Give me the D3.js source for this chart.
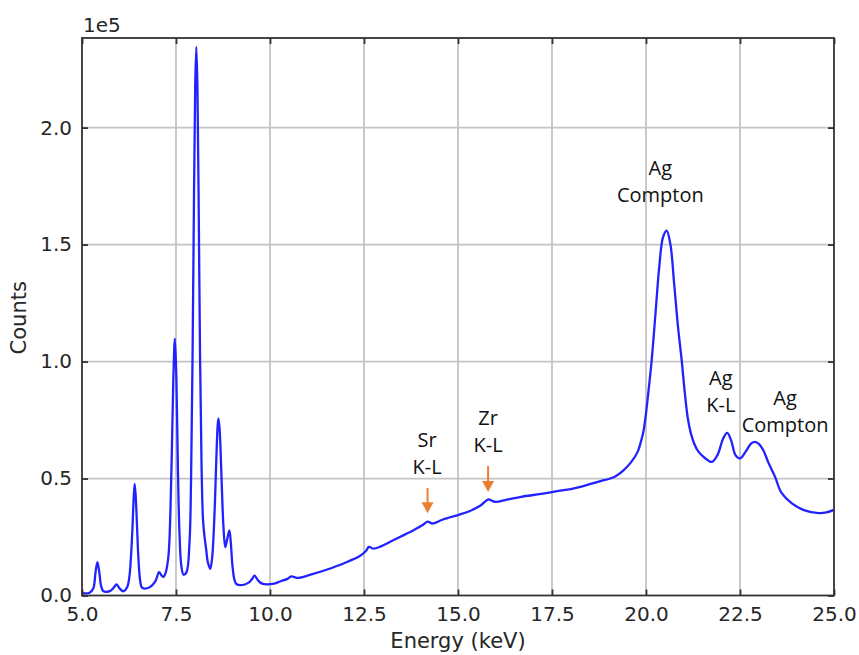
<!DOCTYPE html>
<html>
<head>
<meta charset="utf-8">
<script src="https://cdn.jsdelivr.net/npm/d3@7"></script>
<style>
  html, body { margin: 0; padding: 0; background: #fff; }
  svg { display: block; }
</style>
</head>
<body>
<svg id="chart" width="859" height="655"></svg>
<script>
// ---- Data (energy in keV, counts) ----
const energy = [5.00,5.20,5.30,5.36,5.41,5.46,5.51,5.57,5.75,5.85,5.92,6.00,6.10,6.20,6.26,6.30,6.34,6.37,6.40,6.43,6.46,6.50,6.55,6.60,6.80,6.95,7.05,7.12,7.17,7.23,7.30,7.35,7.39,7.43,7.47,7.51,7.55,7.59,7.64,7.70,7.78,7.86,7.90,7.94,7.98,8.01,8.04,8.07,8.10,8.14,8.18,8.22,8.26,8.30,8.35,8.41,8.46,8.50,8.54,8.58,8.61,8.63,8.66,8.69,8.72,8.76,8.81,8.86,8.92,8.96,9.00,9.05,9.10,9.22,9.42,9.52,9.59,9.68,9.79,10.11,10.28,10.45,10.57,10.72,11.08,11.50,12.00,12.40,12.55,12.63,12.75,12.95,13.20,13.48,13.84,14.05,14.19,14.30,14.37,14.60,15.02,15.30,15.60,15.81,15.90,16.01,16.30,16.68,17.21,17.60,18.00,18.28,18.70,19.17,19.40,19.61,19.78,19.86,19.93,19.99,20.05,20.15,20.25,20.35,20.45,20.55,20.65,20.75,20.85,20.95,21.03,21.11,21.19,21.28,21.39,21.55,21.75,21.90,22.05,22.16,22.27,22.38,22.50,22.65,22.80,22.90,23.00,23.12,23.25,23.43,23.60,23.88,24.20,24.59,24.80,25.00];
const counts = [1000,1200,3000,10000,14300,10000,4000,1800,2000,3500,4700,3000,1800,3500,8000,16000,28000,40000,47700,42000,31000,16000,6000,3300,3500,6000,10000,8500,8000,10000,17000,35000,62000,93000,109800,93000,55000,28000,13000,8900,10000,23000,49000,102000,173000,217000,234500,217000,173000,102000,55000,32000,25000,20000,14000,11400,16000,26000,42000,62000,73000,75700,71000,60000,46000,30000,20700,24000,27800,22000,13000,7000,5000,4400,5400,7000,8500,6500,5100,5100,6100,7000,8200,7500,8900,11000,14000,17000,19000,20800,20000,21000,23000,25200,28100,30000,31600,30800,30900,32500,34500,36000,38500,41100,40500,40000,41000,42200,43400,44500,45500,46500,48500,50800,53500,57100,61500,65500,70000,76500,85000,100400,120000,140000,153000,156000,150000,133000,115000,100400,87000,76000,69500,65000,61600,59000,57100,60000,67000,69500,66000,60000,58600,61500,65000,65700,64800,62100,57000,50800,44000,39400,36500,35200,35500,36600];

const xTicks = [5.0, 7.5, 10.0, 12.5, 15.0, 17.5, 20.0, 22.5, 25.0];
const yTicks = [0, 50000, 100000, 150000, 200000];
const xLabel = "Energy (keV)";
const yLabel = "Counts";
const yOffsetText = "1e5";

// annotations: text lines, anchored at (energy, counts) for the first line centre
const annotations = [
  { e: 14.18, c: 66400, lines: ["Sr", "K-L"] },
  { e: 15.80, c: 75800, lines: ["Zr", "K-L"] },
  { e: 20.38, c: 182600, lines: ["Ag", "Compton"] },
  { e: 21.99, c: 92900, lines: ["Ag", "K-L"] },
  { e: 23.70, c: 84400, lines: ["Ag", "Compton"] }
];
// arrows: energy, tail counts, tip counts
const arrows = [
  { e: 14.19, from: 45900, to: 35200 },
  { e: 15.80, from: 55300, to: 44200 }
];

(function () {
const svg = d3.select("#chart");
const W = 859, H = 655;
const pL = 82, pR = 834, pT = 38, pB = 595.5;

const x = d3.scaleLinear().domain([5, 25]).range([pL, pR]);
const y = d3.scaleLinear().domain([0, 238300]).range([pB, pT]);

svg.append("rect").attr("width", W).attr("height", H).attr("fill", "#fff");

const gridColor = "#c4c4c4";
const frameColor = "#333";
const textColor = "#262626";

// grid
const grid = svg.append("g");
grid.selectAll("line.gx").data(xTicks.slice(1, -1)).enter().append("line")
  .attr("x1", d => x(d)).attr("x2", d => x(d))
  .attr("y1", pT).attr("y2", pB)
  .attr("stroke", gridColor).attr("stroke-width", 1.8);
grid.selectAll("line.gy").data(yTicks.slice(1)).enter().append("line")
  .attr("y1", d => y(d)).attr("y2", d => y(d))
  .attr("x1", pL).attr("x2", pR)
  .attr("stroke", gridColor).attr("stroke-width", 1.8);

// data line
const pts = energy.map((e, i) => [e, counts[i]]);
const line = d3.line().x(d => x(d[0])).y(d => y(d[1])).curve(d3.curveCatmullRom.alpha(0.5));
svg.append("path").datum(pts)
  .attr("d", line)
  .attr("fill", "none")
  .attr("stroke", "#2222ff")
  .attr("stroke-width", 2.3)
  .attr("stroke-linejoin", "round");

// axes (ticks inward on all four sides)
const fmtX = d3.format(".1f");
const fmtY = d => (d / 1e5).toFixed(1);
const tickLen = 6;

const xBottom = d3.axisBottom(x).tickValues(xTicks).tickFormat(fmtX).tickSize(-tickLen).tickPadding(11);
const xTop = d3.axisTop(x).tickValues(xTicks).tickFormat("").tickSize(-tickLen);
const yLeft = d3.axisLeft(y).tickValues(yTicks).tickFormat(fmtY).tickSize(-tickLen).tickPadding(10);
const yRight = d3.axisRight(y).tickValues(yTicks).tickFormat("").tickSize(-tickLen);

function styleAxis(g) {
  g.select(".domain").remove();
  g.selectAll(".tick line").attr("stroke", frameColor).attr("stroke-width", 1.8);
  g.selectAll(".tick text").attr("fill", textColor)
    .style("font-family", "'DejaVu Sans', sans-serif").style("font-size", "20px");
}
svg.append("g").attr("transform", `translate(0,${pB})`).call(xBottom).call(styleAxis);
svg.append("g").attr("transform", `translate(0,${pT})`).call(xTop).call(styleAxis);
svg.append("g").attr("transform", `translate(${pL},0)`).call(yLeft).call(styleAxis);
svg.append("g").attr("transform", `translate(${pR},0)`).call(yRight).call(styleAxis);

// frame
svg.append("rect")
  .attr("x", pL).attr("y", pT)
  .attr("width", pR - pL).attr("height", pB - pT)
  .attr("fill", "none").attr("stroke", frameColor).attr("stroke-width", 1.8);

// axis labels
svg.append("text")
  .attr("x", (pL + pR) / 2).attr("y", 648)
  .attr("text-anchor", "middle").attr("fill", textColor)
  .style("font-family", "'DejaVu Sans', sans-serif").style("font-size", "21px")
  .text(xLabel);
svg.append("text")
  .attr("transform", `translate(26,${(pT + pB) / 2 + 1}) rotate(-90)`)
  .attr("text-anchor", "middle").attr("fill", textColor)
  .style("font-family", "'DejaVu Sans', sans-serif").style("font-size", "21px")
  .text(yLabel);
svg.append("text")
  .attr("x", pL + 1).attr("y", pT - 6)
  .attr("fill", textColor)
  .style("font-family", "'DejaVu Sans', sans-serif").style("font-size", "20px")
  .text(yOffsetText);

// arrows
const arrowColor = "#ed7d31";
arrows.forEach(a => {
  const ax = x(a.e), y0 = y(a.from), y1 = y(a.to);
  svg.append("line").attr("x1", ax).attr("x2", ax).attr("y1", y0).attr("y2", y1 - 9)
    .attr("stroke", arrowColor).attr("stroke-width", 2);
  svg.append("path")
    .attr("d", `M${ax - 6},${y1 - 11} L${ax + 6},${y1 - 11} L${ax},${y1} Z`)
    .attr("fill", arrowColor);
});

// annotations
annotations.forEach(a => {
  const t = svg.append("text")
    .attr("text-anchor", "middle").attr("fill", "#111")
    .style("font-family", "'Open Sans', sans-serif").style("font-size", "20px");
  a.lines.forEach((l, i) => {
    t.append("tspan").attr("x", x(a.e)).attr("y", y(a.c) + 7 + i * 27).text(l);
  });
});
})();
</script>
</body>
</html>
